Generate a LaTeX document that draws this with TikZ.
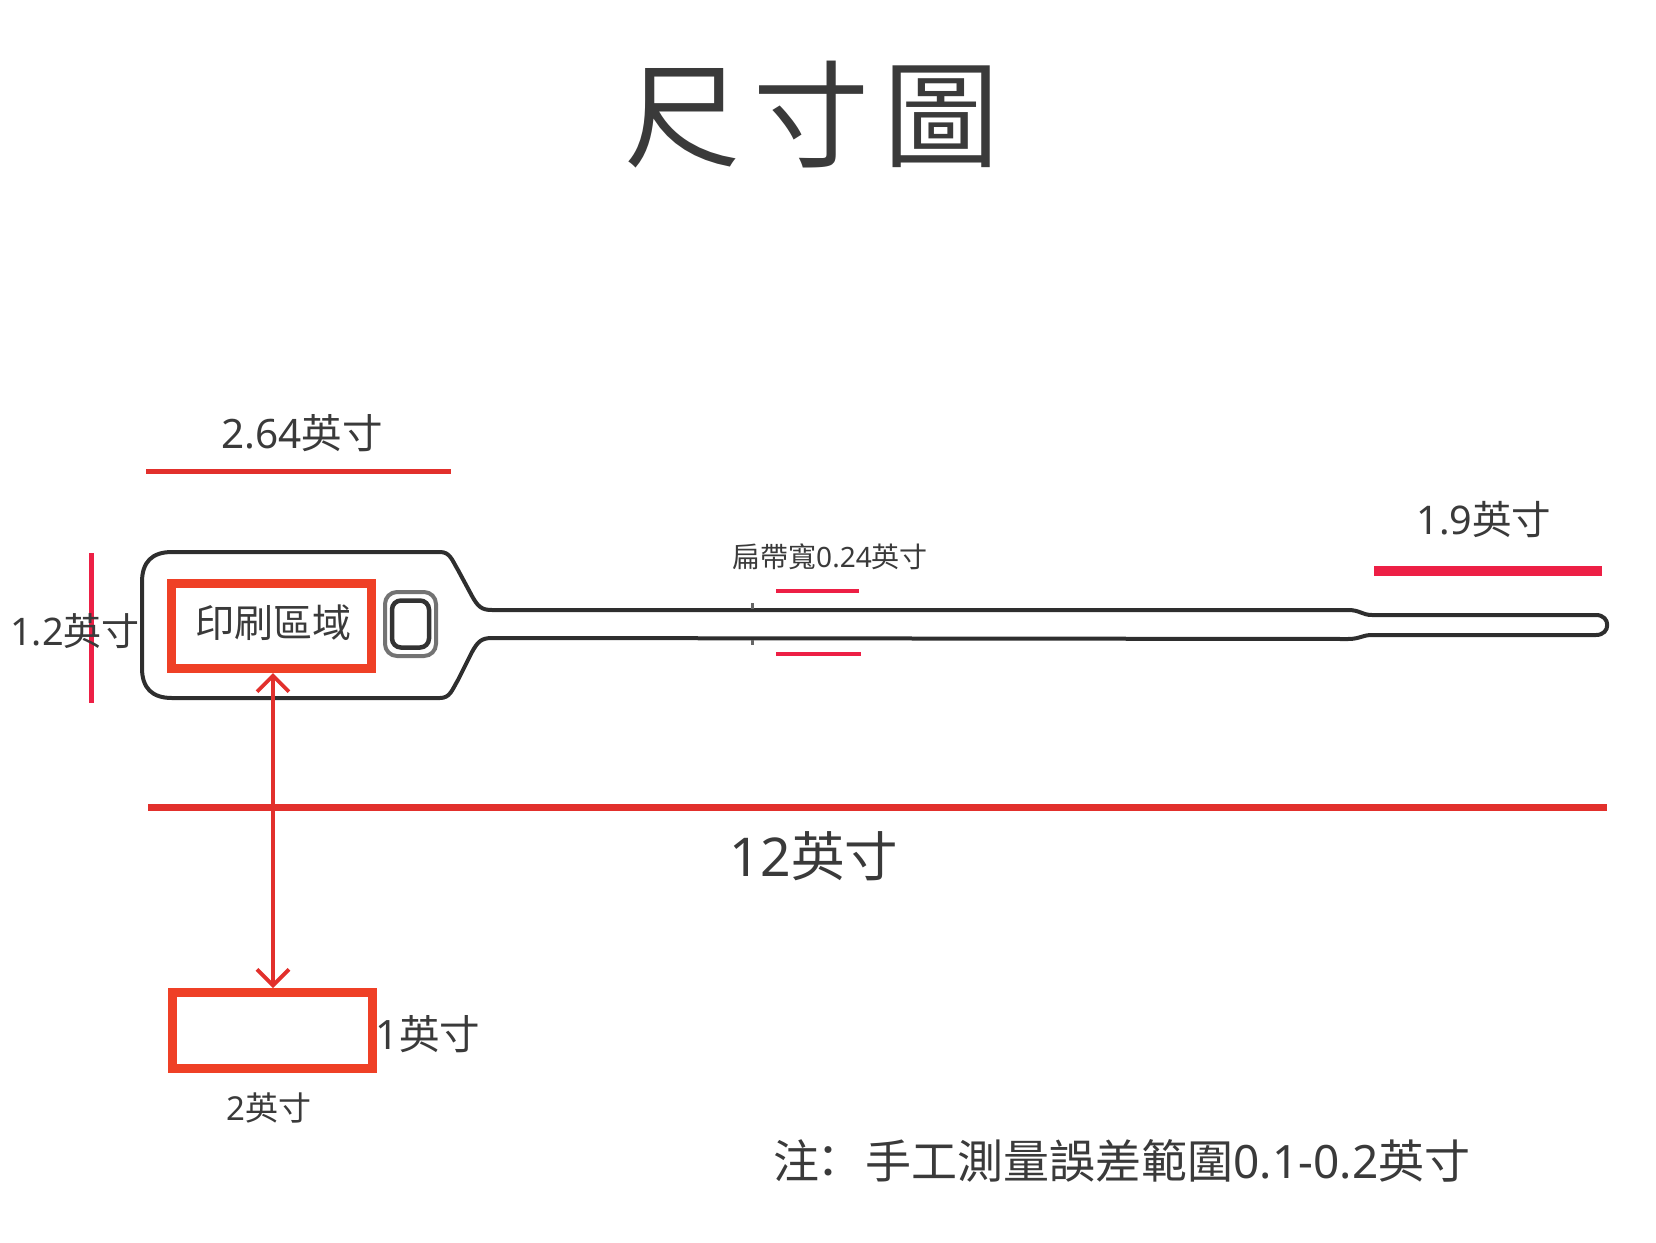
\documentclass[tikz,border=0pt]{standalone}
\usepackage{fontspec}
\usetikzlibrary{arrows.meta}
\newfontfamily\cjk{Noto Sans CJK TC}
\newfontfamily\dg{Noto Sans}
\definecolor{ink}{HTML}{3A3A3A}
\definecolor{boxred}{HTML}{EF4026}
\definecolor{linered}{HTML}{E2302C}
\definecolor{crim}{HTML}{ED1F45}
\tikzset{
  lab/.style={text=ink, inner sep=0pt, font=\cjk\fontsize{#1}{#1}\selectfont},
  areabox/.style={draw=boxred, line width=9pt, minimum width=200pt, inner sep=0pt},
  tagline/.style={draw=black!82, line width=4pt, line join=round}
}
\begin{document}
\begin{tikzpicture}[x=1pt,y=-1pt]
\useasboundingbox (0,0) rectangle (1656,1242);
\node[lab=116] (title) at (812,115) {尺\hspace{14pt}寸\hspace{14pt}圖};
% tag outline
\draw[tagline] (440,552) -- (172,552) .. controls (152,552) and (142,562) .. (142,582)
  -- (142,668) .. controls (142,688) and (152,698) .. (172,698) -- (440,698)
  .. controls (450,698) and (452,690) .. (458,680) -- (472,652)
  .. controls (478,641) and (482,638) .. (492,638) -- (1348,639)
  .. controls (1360,639) and (1362,635) .. (1372,635) -- (1596,635)
  .. controls (1611,635) and (1611,615) .. (1596,615) -- (1372,615)
  .. controls (1362,615) and (1360,610) .. (1348,610) -- (492,610)
  .. controls (482,610) and (478,607) .. (472,596) -- (458,570)
  .. controls (452,560) and (450,552) .. (440,552) -- cycle;
\draw[black!60, line width=3pt] (752,603) -- (752,609) (752,640) -- (752,645);
\node[draw=black!55, line width=4pt, rounded corners=12pt, minimum width=51pt, minimum height=64pt, inner sep=0pt] (hole1) at (410.5,624) {};
\node[draw=black!80, line width=4.5pt, rounded corners=9pt, minimum width=37pt, minimum height=47pt, inner sep=0pt] (hole2) at (410.5,624) {};
% print area
\node[areabox, minimum height=85pt] (area) at (271.5,626) {};
\node[lab=39] (arealab) at (273,623) {印刷區域};
\node[areabox, minimum height=76pt] (blank) at (272,1030.5) {};
\draw[linered, line width=3.8pt, {Straight Barb[length=16pt,width=32pt,line width=3.8pt]}-{Straight Barb[length=16pt,width=32pt,line width=3.8pt]}] (area.south -| 273,0) -- (blank.north -| 273,0);
% dimensions
\coordinate (w1) at (146,471);
\coordinate (w2) at (451,471);
\draw[linered, line width=5pt] (w1) -- (w2);
\node[lab=40.5] (wlab) at (302,433) {{\dg 2.64}英寸};
\coordinate (h1) at (91,553);
\coordinate (h2) at (91,703);
\draw[crim, line width=5pt] (h1) -- (h2);
\node[lab=38] (hlab) at (75,631) {{\dg 1.2}英寸};
\coordinate (s1) at (776,591);
\coordinate (s2) at (859,591);
\coordinate (s3) at (776,654);
\coordinate (s4) at (861,654);
\draw[crim, line width=3.5pt] (s1) -- (s2) (s3) -- (s4);
\node[lab=28] (slab) at (830,557) {扁帶寬{\dg 0.24}英寸};
\coordinate (e1) at (1374,571);
\coordinate (e2) at (1602,571);
\draw[crim, line width=10pt] (e1) -- (e2);
\node[lab=39.5] (elab) at (1484,520) {{\dg 1.9}英寸};
\coordinate (l1) at (148,807);
\coordinate (l2) at (1607,807);
\draw[linered, line width=7pt] (l1) -- (l2);
\node[lab=53.5] (llab) at (814,856) {{\dg 12}英寸};
\node[lab=40.5] (blab1) at (428,1034) {{\dg 1}英寸};
\node[lab=33] (blab2) at (269,1108) {{\dg 2}英寸};
\node[lab=46] (note) at (1122,1161) {注\kern-14pt：\kern14pt手工測量誤差範圍{\dg 0.1-0.2}英寸};
\end{tikzpicture}
\end{document}
